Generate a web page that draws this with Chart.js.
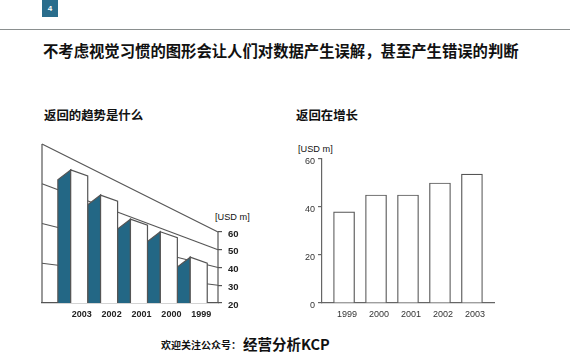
<!DOCTYPE html>
<html>
  <head>
    <meta charset="UTF-8" />
    <title>返回在增长</title>
    <style>
      html,
      body {
        margin: 0;
        padding: 0;
        width: 570px;
        height: 360px;
        background: #fff;
        overflow: hidden;
        font-family: "Liberation Sans", "Noto Sans CJK SC", sans-serif;
        color: #111;
      }
      .txt {
        position: absolute;
        white-space: nowrap;
        line-height: 1;
      }
      .cn {
        font-family: "Noto Sans CJK SC", sans-serif;
        font-weight: 700;
      }
      #tag {
        position: absolute;
        left: 42px;
        top: 0;
        width: 16px;
        height: 17px;
        background: #2a6d8c;
        color: #fff;
        font-size: 8px;
        font-weight: 700;
        line-height: 17px;
        text-align: center;
      }
      #rule {
        position: absolute;
        left: 0;
        top: 29px;
        width: 570px;
        height: 1px;
        background: #8a8f8f;
      }
      canvas {
        position: absolute;
      }
    </style>
    <script src="https://cdn.jsdelivr.net/npm/chart.js"></script>
  </head>
  <body>
    <div id="tag">4</div>
    <div id="rule"></div>
    <div class="txt cn" style="left: 43px; top: 43px; font-size: 15.35px">
      不考虑视觉习惯的图形会让人们对数据产生误解，甚至产生错误的判断
    </div>
    <div class="txt cn" style="left: 44px; top: 109px; font-size: 12.4px">返回的趋势是什么</div>
    <div class="txt cn" style="left: 296px; top: 109px; font-size: 12.4px">返回在增长</div>
    <div class="txt" style="left: 215px; top: 213px; font-size: 9.2px">[USD m]</div>
    <div class="txt" style="left: 298px; top: 145px; font-size: 9.2px">[USD m]</div>
    <div class="txt cn" style="left: 161px; top: 340px; font-size: 10px">欢迎关注公众号：</div>
    <div class="txt cn" style="left: 243px; top: 337px; font-size: 14.5px">经营分析KCP</div>

    <canvas id="left" width="230" height="195" style="left: 30px; top: 130px"></canvas>
    <canvas id="right" width="215" height="195" style="left: 285px; top: 130px"></canvas>

    <script>
      const leftYears = ["2003", "2002", "2001", "2000", "1999"];
      const leftValues = [53.5, 50, 46, 45, 38.5];
      const leftTicks = [20, 30, 40, 50, 60];

      const rightYears = ["1999", "2000", "2001", "2002", "2003"];
      const rightValues = [38, 45, 45, 50, 53.7];
      const rightTicks = [0, 20, 40, 60];

      const lineColor = "#555";
      const blue = "#236785";

      // oblique view of the left chart, all in axis units
      const xMin = -1.33;
      const xMax = 4.56;
      const wallBack = 2.24; // how much the wall is stretched on its far left
      const barFront = 0.2; // bars stand a bit in front of the wall
      const faceDrop = 3.4;
      const sideDrop = 5.5;

      const stretchAt = (x) => wallBack - ((wallBack - 1) * (x - xMin)) / (xMax - xMin);

      const lineSet = (points, extra) => ({
        data: points,
        showLine: true,
        pointRadius: 0,
        borderColor: lineColor,
        borderWidth: 1.2,
        borderJoinStyle: "miter",
        clip: false,
        ...extra,
      });

      const leftSets = [];
      // wall
      leftTicks.slice(1).forEach((v) => {
        leftSets.push(
          lineSet(
            [
              { x: xMin, y: 20 + (v - 20) * wallBack },
              { x: xMax, y: v },
            ],
            { order: 10 }
          )
        );
      });
      leftSets.push(
        lineSet(
          [
            { x: xMin, y: 20 },
            { x: xMin, y: 20 + 40 * wallBack },
          ],
          { order: 10 }
        )
      );
      // the value axis only reaches up to its last tick
      leftSets.push(
        lineSet(
          [
            { x: xMax, y: 20 },
            { x: xMax, y: 60 },
          ],
          { order: 10 }
        )
      );
      // bars
      leftValues.forEach((v, i) => {
        const sideX = i - 0.8;
        const faceX = i - 0.37;
        const endX = i + 0.2;
        const top = 20 + (v - 20) * (stretchAt(faceX) + barFront);
        leftSets.push(
          lineSet(
            [
              { x: sideX, y: 20 },
              { x: sideX, y: top - sideDrop },
              { x: faceX, y: top },
              { x: faceX, y: 20 },
            ],
            { order: 2, fill: "start", backgroundColor: blue }
          )
        );
        leftSets.push(
          lineSet(
            [
              { x: faceX, y: 20 },
              { x: faceX, y: top },
              { x: endX, y: top - faceDrop },
              { x: endX, y: 20 },
            ],
            { order: 1, fill: "start", backgroundColor: "#fff" }
          )
        );
      });

      const common = {
        responsive: false,
        animation: false,
        plugins: { legend: { display: false }, tooltip: { enabled: false } },
      };

      new Chart(document.getElementById("left"), {
        type: "scatter",
        data: { datasets: leftSets },
        options: {
          ...common,
          layout: { padding: { left: 12, top: 14, right: 0, bottom: 0 } },
          scales: {
            x: {
              type: "linear",
              min: xMin,
              max: xMax,
              afterBuildTicks: (s) => {
                s.ticks = leftYears.map((_, i) => ({ value: i }));
              },
              afterFit: (s) => {
                s.height = 22;
              },
              border: { color: lineColor, width: 1.2 },
              grid: { display: false, drawTicks: false },
              ticks: {
                autoSkip: false,
                maxRotation: 0,
                padding: 6,
                color: "#222",
                font: { family: "Liberation Sans", size: 9, weight: "bold" },
                callback: (v) => leftYears[v],
              },
            },
            y: {
              type: "linear",
              position: "right",
              min: 20,
              max: 20 + 40 * wallBack,
              afterBuildTicks: (s) => {
                s.ticks = leftTicks.map((v) => ({ value: v }));
              },
              afterFit: (s) => {
                s.width = 42;
              },
              border: { display: false },
              grid: { drawOnChartArea: false, color: lineColor, tickLength: 4, lineWidth: 1.2 },
              ticks: {
                padding: 6,
                labelOffset: 2,
                color: "#222",
                font: { family: "Liberation Sans", size: 9.5, weight: "bold" },
              },
            },
          },
        },
      });

      new Chart(document.getElementById("right"), {
        type: "bar",
        data: {
          datasets: [
            {
              data: rightValues.map((v, i) => ({ x: i, y: v })),
              backgroundColor: "#fff",
              borderColor: lineColor,
              borderWidth: 1.2,
              barThickness: 21,
            },
          ],
        },
        options: {
          ...common,
          layout: { padding: { left: 0, top: 29, right: 6, bottom: 0 } },
          scales: {
            x: {
              type: "linear",
              offset: false,
              min: -0.69,
              max: 4.69,
              afterBuildTicks: (s) => {
                s.ticks = rightYears.map((_, i) => ({ value: i }));
              },
              afterFit: (s) => {
                s.height = 22;
              },
              border: { color: "#666", width: 1.2 },
              grid: { display: false, drawTicks: false },
              ticks: {
                autoSkip: false,
                maxRotation: 0,
                padding: 6,
                labelOffset: 3,
                color: "#333",
                font: { family: "Liberation Sans", size: 9 },
                callback: (v) => rightYears[v],
              },
            },
            y: {
              type: "linear",
              min: 0,
              max: 60,
              afterBuildTicks: (s) => {
                s.ticks = rightTicks.map((v) => ({ value: v }));
              },
              afterFit: (s) => {
                s.width = 37;
              },
              border: { color: "#666", width: 1.2 },
              grid: { drawOnChartArea: false, color: "#666", tickLength: 4, lineWidth: 1.2 },
              ticks: {
                padding: 3,
                labelOffset: 2.5,
                color: "#333",
                font: { family: "Liberation Sans", size: 9 },
              },
            },
          },
        },
      });
    </script>
  </body>
</html>
